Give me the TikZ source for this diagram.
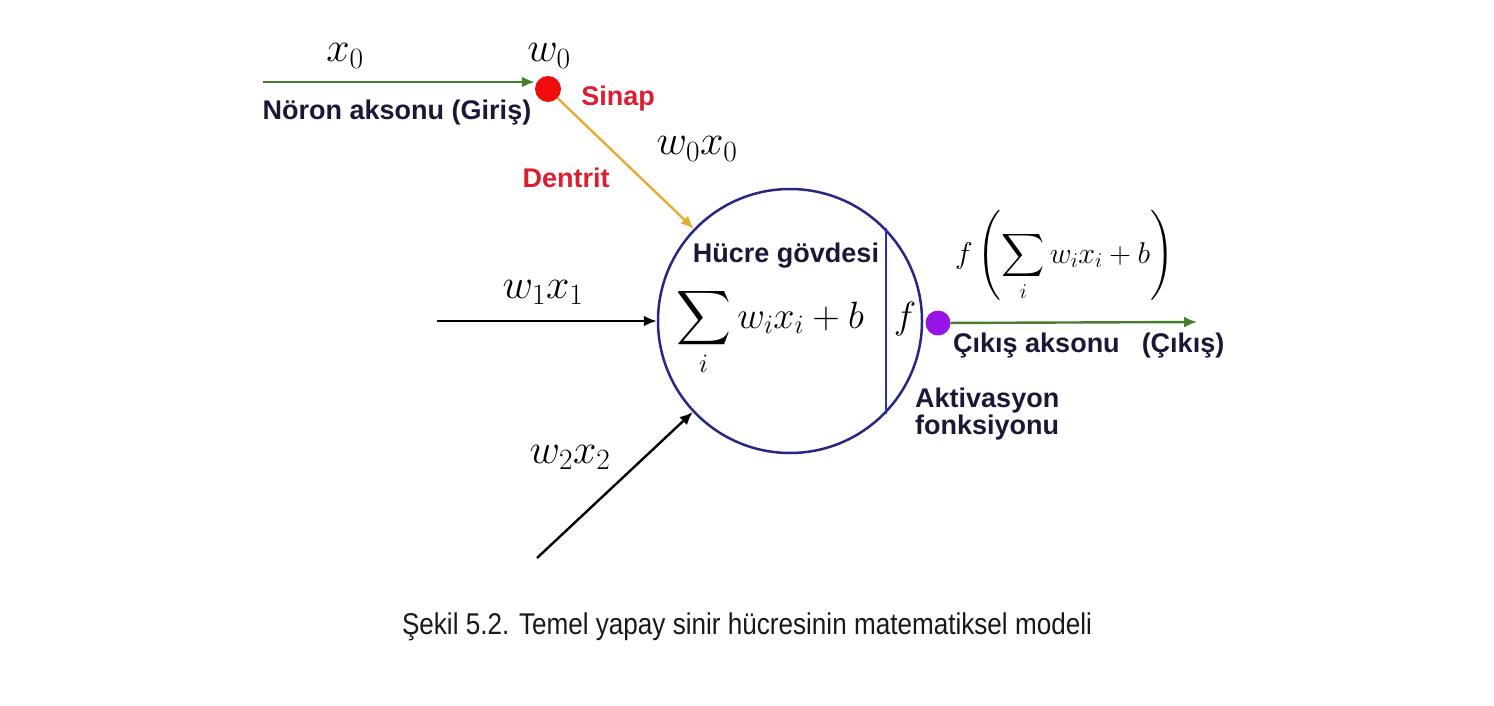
\RequirePackage{fix-cm}
\documentclass[tikz,border=0pt]{standalone}
\usepackage{fontspec}
\DeclareFontShape{OMX}{cmex}{m}{n}{<-7.5>cmex7<7.5-8.5>cmex8<8.5-9.5>cmex9<9.5->cmex10}{}
\newfontfamily\labfont{Liberation Sans}
\newfontfamily\capfont[FakeStretch=0.87]{Liberation Sans}
\usetikzlibrary{arrows.meta}
\definecolor{axgreen}{RGB}{72,125,45}
\definecolor{dgold}{RGB}{228,172,52}
\definecolor{navy}{RGB}{40,40,130}
\definecolor{vblue}{RGB}{45,45,200}
\definecolor{dotred}{RGB}{238,12,12}
\definecolor{dotpurple}{RGB}{150,20,230}
\definecolor{labred}{RGB}{222,28,50}
\definecolor{textdark}{RGB}{25,25,55}
\definecolor{captext}{RGB}{25,25,25}
\begin{document}
\begin{tikzpicture}[x=1pt,y=-1pt,
  lab/.style={font=\labfont\bfseries\fontsize{27}{27}\selectfont, text=textdark, inner sep=0pt},
  redlab/.style={lab, text=labred},
  mlab/.style={font=\fontsize{42}{50}\selectfont, inner sep=0pt},
  sumlab/.style={font=\fontsize{38}{46}\selectfont, inner sep=0pt},
  outlab/.style={font=\fontsize{30}{36}\selectfont, inner sep=0pt},
  capstyle/.style={font=\capfont\fontsize{30}{34}\selectfont, text=captext, inner sep=0pt},
  conn/.style={line width=2.4pt, -{Latex[length=13pt,width=11pt]}},
  dot/.style={circle, inner sep=0pt, minimum size=25pt}]
\useasboundingbox (0,0) rectangle (1494,706);

% cell body
\node[circle, draw=navy, line width=2.5pt, minimum size=264pt, inner sep=0pt] (soma) at (790,321) {};
\draw[vblue, line width=2pt] (soma.44) -- (soma.-44);

% synapse and activation dots
\node[dot, fill=dotred, minimum size=26pt] (syn) at (548,89) {};
\node[dot, fill=dotpurple] (act) at (938,323) {};

% connectors
\coordinate (in0) at (263,82);
\coordinate (in1) at (437,321);
\coordinate (in2) at (537,558);
\coordinate (out) at (1197,322);
\draw[conn, axgreen] (in0) -- (syn.west |- in0);
\draw[conn, dgold] (syn) -- (soma);
\draw[conn, black] (in1) -- (soma);
\draw[conn, black] (in2) -- (soma);
\draw[conn, axgreen] (act) -- (out);

% math labels
\node[mlab, anchor=base] (x0) at (345,62) {$x_0$};
\node[mlab, anchor=base] (w0) at (549,62) {$w_0$};
\node[mlab, anchor=base] (w0x0) at (697,155) {$w_0x_0$};
\node[mlab, anchor=base] (w1x1) at (543,298) {$w_1x_1$};
\node[mlab, anchor=base] (w2x2) at (570,463) {$w_2x_2$};
\node[sumlab, anchor=base west] (sum) at (676,328) {$\displaystyle\sum_i w_i x_i + b$};
\node[sumlab, anchor=base] (f) at (905,328) {$f$};
\node[outlab, anchor=base west] (fout) at (955,263) {$\displaystyle f\left(\sum_i w_i x_i + b\right)$};

% text labels
\node[lab, anchor=base] (axon) at (397,120) {Nöron aksonu (Giriş)};
\node[redlab, anchor=base] (sinap) at (618,106) {Sinap};
\node[redlab, anchor=base] (dentrit) at (566,187) {Dentrit};
\node[lab, anchor=base] (body) at (786,262) {Hücre gövdesi};
\node[lab, anchor=base west] (outax) at (953,352) {Çıkış aksonu\hspace{22pt}(Çıkış)};
\node[lab, anchor=north west, align=left] (actf) at (915,388) {Aktivasyon\\fonksiyonu};

% caption
\node[capstyle, anchor=base] (cap) at (747,634) {Şekil 5.2. Temel yapay sinir hücresinin matematiksel modeli};
\end{tikzpicture}
\end{document}
